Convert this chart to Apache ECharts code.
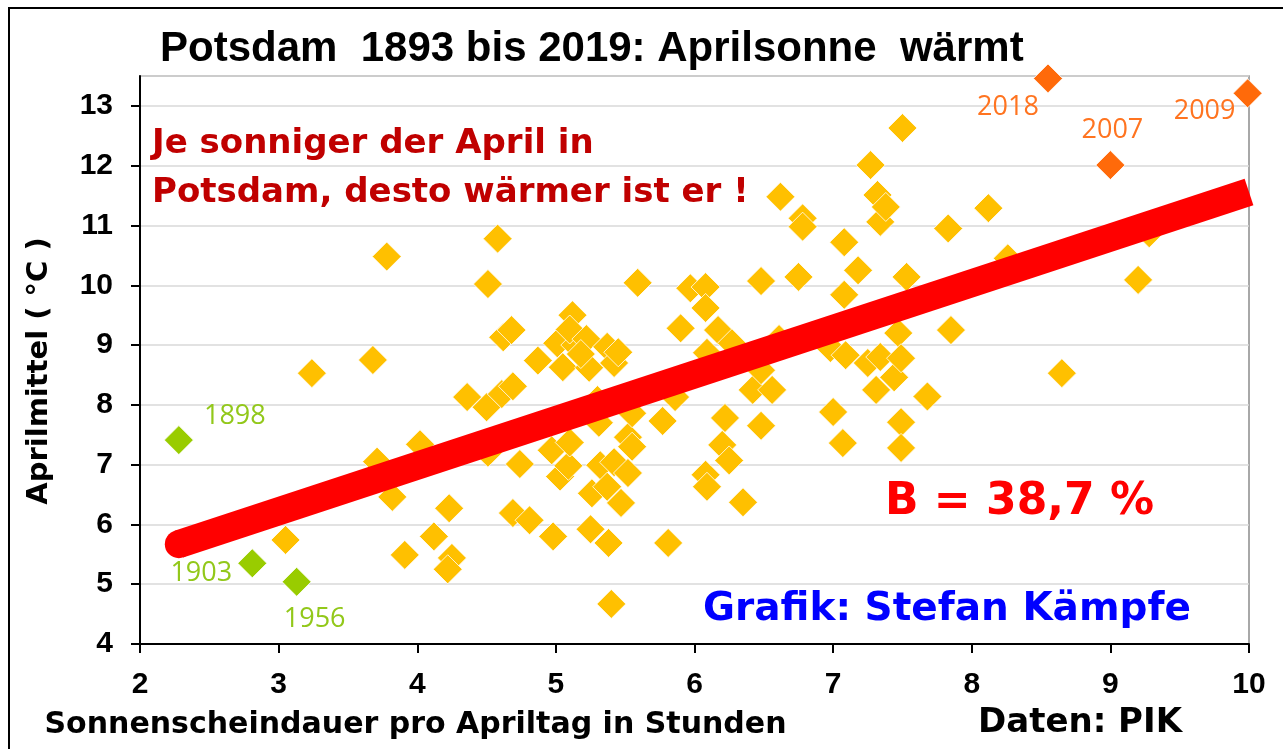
<!DOCTYPE html>
<html>
<head>
<meta charset="utf-8">
<script src="https://cdn.jsdelivr.net/npm/echarts@6/dist/echarts.min.js"></script>
<style>
html,body{margin:0;padding:0;background:#fff;}
#chart{width:1283px;height:749px;}
</style>
</head>
<body>
<div id="chart"></div>
<script>
// ---- data ----
const sunshineHours = [
  3.05, 3.24, 3.68, 3.71, 3.78, 3.82, 3.91, 4.02, 4.12, 4.23, 4.25, 4.22,
  4.36, 4.50, 4.61, 4.69, 4.51, 4.58, 4.62, 4.68, 4.51, 4.74, 4.69, 4.81,
  4.87, 4.98, 4.97, 5.03, 5.09, 5.10, 5.01, 5.05, 5.12, 5.14, 5.10, 5.22,
  5.24, 5.18, 5.37, 5.42, 5.45, 5.30, 5.31, 5.25, 5.26, 5.32, 5.42, 5.37,
  5.38, 5.40, 5.47, 5.52, 5.52, 5.55, 5.55, 5.59, 5.77, 5.81, 5.86, 5.90,
  5.97, 6.08, 6.08, 6.09, 6.08, 6.09, 6.17, 6.20, 6.22, 6.25, 6.27, 6.35,
  6.42, 6.56, 6.48, 6.48, 6.48, 6.62, 6.61, 6.75, 6.78, 6.78, 6.98, 7.00,
  7.07, 7.08, 7.08, 7.09, 7.18, 7.25, 7.27, 7.31, 7.32, 7.34, 7.34, 7.38,
  7.44, 7.47, 7.49, 7.49, 7.49, 7.50, 7.53, 7.68, 7.83, 7.85, 8.12, 8.26,
  8.65, 9.20, 9.28, 4.85, 5.65, 6.00, 6.85
];
const aprilTemp = [
  5.74, 8.53, 8.75, 7.05, 10.48, 6.46, 5.49, 7.34, 5.80, 6.27, 5.44, 5.25,
  8.13, 7.96, 8.18, 8.31, 10.02, 10.78, 9.13, 9.25, 7.20, 7.01, 6.19, 6.07,
  8.74, 5.80, 7.24, 6.80, 6.98, 7.37, 9.03, 8.63, 9.50, 9.00, 9.26, 9.10,
  8.62, 8.85, 8.97, 8.70, 8.88, 8.08, 7.70, 5.92, 6.52, 6.99, 7.04, 6.63,
  5.69, 4.67, 6.36, 6.86, 7.46, 7.30, 7.86, 10.04, 7.73, 5.69, 8.13, 9.28,
  9.95, 9.97, 9.62, 8.87, 6.83, 6.63, 9.25, 7.33, 7.78, 7.07, 9.03, 6.37,
  8.25, 8.25, 8.58, 7.65, 10.07, 11.48, 9.10, 10.14, 11.12, 10.98, 8.95, 7.88,
  7.36, 10.72, 9.84, 8.83, 10.25, 8.70, 12.01, 8.25, 11.51, 11.06, 8.80, 11.31,
  8.46, 9.20, 8.78, 7.71, 7.28, 12.63, 10.14, 8.14, 10.95, 9.25, 11.29, 10.45,
  8.53, 10.09, 10.87, 7.63, 8.24, 8.51, 9.16
];
const markedYears = ['1898', '1903', '1956', '2018', '2007', '2009'];
const markedSun   = [2.28, 2.81, 3.13, 8.55, 9.00, 9.99];
const markedTemp  = [7.41, 5.35, 5.04, 13.46, 12.01, 13.21];
const trendSun  = [2.28, 10];
const trendTemp = [5.67, 11.56];
const xTicks = [2, 3, 4, 5, 6, 7, 8, 9, 10];
const yTicks = [4, 5, 6, 7, 8, 9, 10, 11, 12, 13];

// ---- styling ----
const GREEN = '#99CC00', ORANGE = '#FF6A0A';
const yearStyle = {
  '1898': {color: '#92C81A', offset: [56, -24]},
  '1903': {color: '#92C81A', offset: [-51, 10]},
  '1956': {color: '#92C81A', offset: [18, 37]},
  '2018': {color: '#FF7420', offset: [-40, 29]},
  '2007': {color: '#FF7420', offset: [2, -35]},
  '2009': {color: '#FF7420', offset: [-43, 18]}
};
const markerColor = {'1898': GREEN, '1903': GREEN, '1956': GREEN, '2018': ORANGE, '2007': ORANGE, '2009': ORANGE};
const BOLD = 'DejaVu Sans';
const LINE_W = 28;

const chart = echarts.init(document.getElementById('chart'), null, {renderer: 'canvas'});
const option = {
  animation: false,
  backgroundColor: '#ffffff',
  title: {
    text: 'Potsdam  1893 bis 2019: Aprilsonne  wärmt',
    left: 155, top: 23,
    textStyle: {fontFamily: 'Liberation Sans', fontWeight: 'bold', fontSize: 42, color: '#000'}
  },
  grid: {left: 140, right: 34, top: 76, bottom: 105, show: true, borderColor: '#8c8c8c', borderWidth: 1.5, containLabel: false},
  xAxis: {
    type: 'value', min: xTicks[0], max: xTicks[xTicks.length - 1], interval: 1,
    axisLine: {show: true, onZero: false, lineStyle: {color: '#000', width: 2}},
    axisTick: {show: true, length: 9, lineStyle: {color: '#000', width: 2}},
    splitLine: {show: false},
    axisLabel: {fontFamily: 'Liberation Sans', fontWeight: 'bold', fontSize: 30, color: '#000', margin: 26},
    name: 'Sonnenscheindauer pro Apriltag in Stunden',
    nameLocation: 'middle', nameGap: 66,
    nameTextStyle: {fontFamily: BOLD, fontWeight: 'bold', fontSize: 30, color: '#000', padding: [0, 558, 0, 0]}
  },
  yAxis: {
    type: 'value', min: yTicks[0], max: 13.5, interval: 1,
    axisLine: {show: true, onZero: false, lineStyle: {color: '#000', width: 2}},
    axisTick: {show: true, length: 9, lineStyle: {color: '#000', width: 2}},
    splitLine: {show: true, lineStyle: {color: '#d9d9d9', width: 1.5}},
    axisLabel: {
      fontFamily: 'Liberation Sans', fontWeight: 'bold', fontSize: 30, color: '#000', margin: 27,
      showMaxLabel: false,
      formatter: v => (yTicks.indexOf(v) >= 0 ? String(v) : '')
    },
    name: 'Aprilmittel ( °C )',
    nameLocation: 'middle', nameRotate: 90, nameGap: 86,
    nameTextStyle: {fontFamily: BOLD, fontWeight: 'bold', fontSize: 29, color: '#000', padding: [0, 22, 0, 0]}
  },
  series: [
    {
      type: 'scatter', z: 2, clip: false, silent: true,
      symbol: 'diamond', symbolSize: 29,
      itemStyle: {color: '#FFC000', borderColor: '#ffffff', borderWidth: 0.8, opacity: 1},
      data: sunshineHours.map((x, i) => [x, aprilTemp[i]])
    },
    {
      type: 'line', z: 3, clip: true, silent: true, symbol: 'none',
      lineStyle: {color: '#FF0000', width: LINE_W, cap: 'butt', opacity: 1},
      data: trendSun.map((x, i) => [x, trendTemp[i]])
    },
    {
      // rounded start of the trend line
      type: 'scatter', z: 3, silent: true, symbol: 'circle', symbolSize: LINE_W,
      itemStyle: {color: '#FF0000', opacity: 1},
      data: [[trendSun[0], trendTemp[0]]]
    },
    {
      type: 'scatter', z: 4, clip: false, silent: true,
      symbol: 'diamond', symbolSize: 29,
      data: markedYears.map((y, i) => ({
        name: y,
        value: [markedSun[i], markedTemp[i]],
        itemStyle: {color: markerColor[y], borderColor: '#fff', borderWidth: 0.8, opacity: 1},
        label: {
          show: true, position: 'inside', formatter: '{b}',
          offset: yearStyle[y].offset,
          color: yearStyle[y].color,
          fontFamily: 'Open Sans', fontSize: 27
        }
      }))
    }
  ],
  graphic: [
    {type: 'rect', z: 0, silent: true, shape: {x: 9, y: 8, width: 1300, height: 800},
     style: {fill: 'none', stroke: '#000', lineWidth: 2}},
    {type: 'text', x: 152, y: 144, z: 10, silent: true,
     style: {text: 'Je sonniger der April in', fill: '#C00000', font: 'bold 34px "DejaVu Sans"', verticalAlign: 'middle'}},
    {type: 'text', x: 152, y: 193, z: 10, silent: true,
     style: {text: 'Potsdam, desto wärmer ist er !', fill: '#C00000', font: 'bold 34px "DejaVu Sans"', verticalAlign: 'middle'}},
    {type: 'text', x: 885, y: 503, z: 10, silent: true,
     style: {text: 'B = 38,7 %', fill: '#FF0000', font: 'bold 44px "DejaVu Sans"', verticalAlign: 'middle'}},
    {type: 'text', x: 703, y: 610, z: 10, silent: true,
     style: {text: 'Grafik: Stefan Kämpfe', fill: '#0000FF', font: 'bold 39px "DejaVu Sans"', verticalAlign: 'middle'}},
    {type: 'text', x: 978, y: 723, z: 10, silent: true,
     style: {text: 'Daten: PIK', fill: '#000', font: 'bold 34px "DejaVu Sans"', verticalAlign: 'middle'}}
  ]
};
chart.setOption(option);
</script>
</body>
</html>
